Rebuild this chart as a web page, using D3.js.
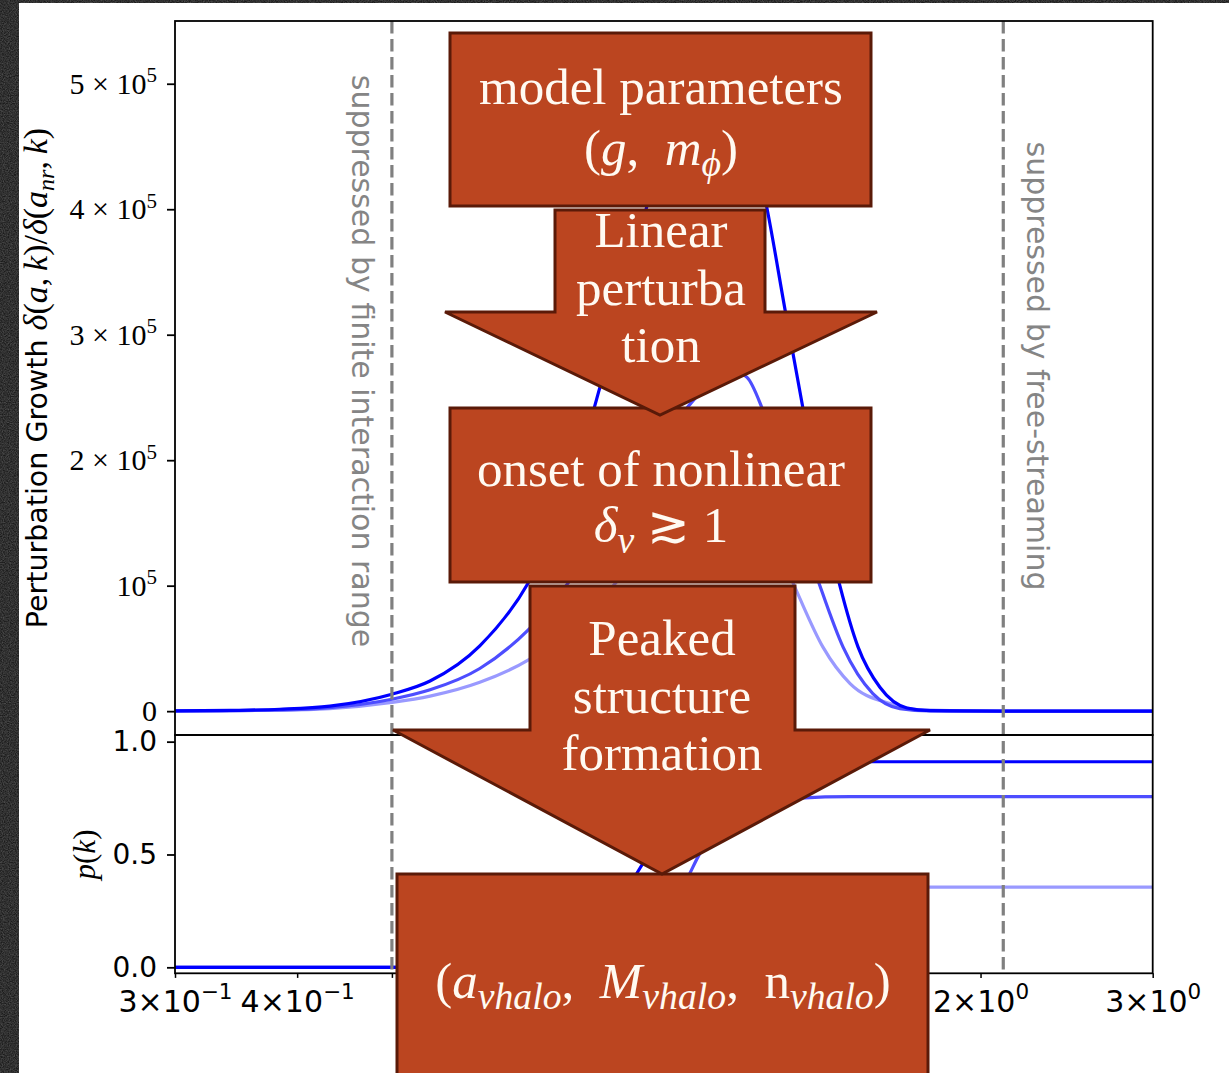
<!DOCTYPE html>
<html>
<head>
<meta charset="utf-8">
<script src="https://cdn.jsdelivr.net/npm/d3@7"></script>
<style>
  html, body { margin: 0; padding: 0; background: #1b1b1b; overflow: hidden; }
  svg { display: block; }
</style>
</head>
<body>
<svg id="fig" width="1229" height="1073"></svg>
<script>
// ---- growth factor delta(a,k)/delta(a_nr,k) for three couplings (strong, mid, weak) ----
const growthKStrong = [0.300, 0.342, 0.384, 0.432, 0.500, 0.547, 0.615, 0.689, 0.752, 0.816, 0.876, 0.940, 1.009, 1.070, 1.135, 1.210, 1.262, 1.316, 1.370, 1.436, 1.499, 1.578, 1.682, 1.776, 2.095, 3.000];
const growthStrong  = [200, 600, 1500, 4000, 13500, 24000, 52000, 102000, 165000, 258000, 350000, 440000, 505000, 525000, 490000, 400000, 320000, 242000, 170000, 100000, 51000, 19000, 2500, 400, 0, 0];

const growthKMid = [0.300, 0.384, 0.432, 0.500, 0.547, 0.615, 0.689, 0.779, 0.876, 0.986, 1.070, 1.109, 1.154, 1.195, 1.247, 1.307, 1.370, 1.447, 1.552, 1.654, 1.776, 2.095, 3.000];
const growthMid  = [150, 1000, 2800, 9500, 17000, 34000, 64600, 115000, 175000, 235000, 265000, 272000, 266000, 242000, 200000, 148000, 100000, 51000, 14000, 2000, 200, 0, 0];

const growthKWeak = [0.300, 0.384, 0.432, 0.500, 0.547, 0.615, 0.689, 0.779, 0.876, 0.986, 1.070, 1.148, 1.233, 1.298, 1.380, 1.471, 1.616, 1.734, 2.095, 3.000];
const growthWeak  = [100, 700, 2000, 7000, 12000, 23000, 40700, 72000, 115000, 160000, 182000, 172000, 135000, 95000, 51000, 22000, 6000, 1000, 0, 0];

// ---- halo fraction p(k) for the same three couplings ----
const probKStrong = [0.300, 0.689, 0.709, 0.779, 0.836, 0.897, 0.963, 1.033, 1.135, 1.307, 1.542, 3.000];
const probStrong  = [0, 0, 0.005, 0.08, 0.22, 0.44, 0.65, 0.80, 0.88, 0.905, 0.911, 0.911];

const probKMid = [0.300, 0.816, 0.897, 0.918, 0.974, 1.009, 1.033, 1.083, 1.148, 1.218, 1.307, 1.471, 3.000];
const probMid  = [0, 0, 0.03, 0.10, 0.28, 0.418, 0.506, 0.62, 0.70, 0.735, 0.75, 0.756, 0.756];

const probKWeak = [0.300, 0.940, 1.033, 1.109, 1.190, 1.262, 1.370, 1.542, 3.000];
const probWeak  = [0, 0, 0.02, 0.10, 0.22, 0.30, 0.345, 0.355, 0.355];

// ---- scale boundaries marked with dashed lines ----
const suppressionK = [0.5, 2.11];
const suppressionLabels = ["suppressed by finite interaction range", "suppressed by free-streaming"];

// ---- ticks ----
const growthTicks = [0, 1e5, 2e5, 3e5, 4e5, 5e5];
const probTicks = [0.0, 0.5, 1.0];
const probTickLabels = ["0.0", "0.5", "1.0"];
const kTicks = [0.3, 0.4, 0.5, 0.6, 0.7, 0.8, 0.9, 1, 2, 3];
const kTickLabels = { 0.3: ["3", "\u22121"], 0.4: ["4", "\u22121"], 0.6: ["6", "\u22121"], 1: [null, "0"], 2: ["2", "0"], 3: ["3", "0"] };

const lineAlphas = [1.0, 0.7, 0.4];

// ---------------------------------------------------------------
const svg = d3.select("#fig");
const W = 1229, H = 1073;
const SANS = "'DejaVu Sans', sans-serif";
const SERIF = "'Liberation Serif', 'DejaVu Serif', serif";

// dark grainy surround and white sheet
const defs = svg.append("defs");
const grain = defs.append("filter").attr("id", "grain")
  .attr("x", 0).attr("y", 0).attr("width", "100%").attr("height", "100%");
grain.append("feTurbulence").attr("type", "fractalNoise")
  .attr("baseFrequency", 0.85).attr("numOctaves", 3).attr("seed", 7).attr("result", "n");
grain.append("feColorMatrix").attr("in", "n").attr("type", "matrix")
  .attr("values", "0 0 0 0 1  0 0 0 0 1  0 0 0 0 1  0.35 0 0 0 -0.08");
svg.append("rect").attr("width", W).attr("height", H).attr("fill", "#1b1b1b");
svg.append("rect").attr("width", W).attr("height", H).attr("filter", "url(#grain)");
svg.append("rect").attr("x", 19).attr("y", 3).attr("width", W - 19).attr("height", H - 3).attr("fill", "#ffffff");

// panel geometry
const xL = 175, xR = 1152.7, yTop = 21, yMid = 735, yBot = 973.3;

const x = d3.scaleLog().domain([0.3, 3]).range([xL, xR]);
const yG = d3.scaleLinear().domain([-19000, 550000]).range([yMid, yTop]);
const yP = d3.scaleLinear().domain([-0.0265, 1.0295]).range([yBot, yMid]);

defs.append("clipPath").attr("id", "clipTop").append("rect")
  .attr("x", xL).attr("y", yTop).attr("width", xR - xL).attr("height", yMid - yTop);
defs.append("clipPath").attr("id", "clipBot").append("rect")
  .attr("x", xL).attr("y", yMid).attr("width", xR - xL).attr("height", yBot - yMid);

const blue = a => d3.interpolateRgb("#ffffff", "#0000ff")(a);

function drawSeries(g, ks, vs, yScale, alpha) {
  const pts = ks.map((k, i) => [k, vs[i]]);
  g.append("path")
    .attr("d", d3.line().x(d => x(d[0])).y(d => yScale(d[1])).curve(d3.curveMonotoneX)(pts))
    .attr("fill", "none").attr("stroke", blue(alpha)).attr("stroke-width", 3.2)
    .attr("stroke-linejoin", "round").attr("stroke-linecap", "butt");
}

// draw weakest first so the strongest sits on top
const gTop = svg.append("g").attr("clip-path", "url(#clipTop)");
drawSeries(gTop, growthKWeak, growthWeak, yG, lineAlphas[2]);
drawSeries(gTop, growthKMid, growthMid, yG, lineAlphas[1]);
drawSeries(gTop, growthKStrong, growthStrong, yG, lineAlphas[0]);

const gBot = svg.append("g").attr("clip-path", "url(#clipBot)");
drawSeries(gBot, probKWeak, probWeak, yP, lineAlphas[2]);
drawSeries(gBot, probKMid, probMid, yP, lineAlphas[1]);
drawSeries(gBot, probKStrong, probStrong, yP, lineAlphas[0]);

// dashed boundaries across both panels
svg.append("g").selectAll("line").data(suppressionK).join("line")
  .attr("x1", d => x(d)).attr("x2", d => x(d))
  .attr("y1", yTop).attr("y2", yBot)
  .attr("stroke", "#808080").attr("stroke-width", 3.2)
  .attr("stroke-dasharray", "12.5,5.5");

// spines
const spine = svg.append("g").attr("fill", "none").attr("stroke", "#000").attr("stroke-width", 1.8);
spine.append("rect").attr("x", xL).attr("y", yTop).attr("width", xR - xL).attr("height", yMid - yTop);
spine.append("rect").attr("x", xL).attr("y", yMid).attr("width", xR - xL).attr("height", yBot - yMid);

// growth axis (serif, 10^5 notation)
const axG = svg.append("g").attr("transform", `translate(${xL},0)`)
  .call(d3.axisLeft(yG).tickValues(growthTicks).tickSize(8).tickPadding(10).tickFormat(() => ""));
axG.select(".domain").remove();
axG.selectAll(".tick line").attr("stroke", "#000").attr("stroke-width", 1.8);
axG.selectAll(".tick text").each(function (d) {
  const t = d3.select(this).attr("font-family", SERIF).attr("font-size", 30).attr("fill", "#000");
  if (d === 0) { t.text("0"); return; }
  const m = Math.round(d / 1e5);
  if (m > 1) t.append("tspan").text(m + " \u00d7 ");
  t.append("tspan").text("10");
  t.append("tspan").attr("font-size", 21).attr("dy", "-0.55em").text("5");
});

// probability axis
const axP = svg.append("g").attr("transform", `translate(${xL},0)`)
  .call(d3.axisLeft(yP).tickValues(probTicks).tickSize(8).tickPadding(10)
    .tickFormat((d, i) => probTickLabels[i]));
axP.select(".domain").remove();
axP.selectAll(".tick line").attr("stroke", "#000").attr("stroke-width", 1.8);
axP.selectAll(".tick text").attr("font-family", SANS).attr("font-size", 28).attr("fill", "#000");

// k axis (log, labelled at selected multiples)
const axK = svg.append("g").attr("transform", `translate(0,${yBot})`)
  .call(d3.axisBottom(x).tickValues(kTicks).tickSize(4.6).tickFormat(() => ""));
axK.select(".domain").remove();
axK.selectAll(".tick line").attr("stroke", "#000").attr("stroke-width", 1.5)
  .attr("y2", d => d === 1 ? 8 : 4.6);
axK.selectAll(".tick text").each(function (d) {
  const lab = kTickLabels[d];
  const t = d3.select(this).attr("y", 39).attr("dy", 0)
    .attr("font-family", SANS).attr("font-size", 30).attr("fill", "#000");
  if (!lab) return;
  t.append("tspan").text(lab[0] ? lab[0] + "\u00d710" : "10");
  t.append("tspan").attr("font-size", 21.5).attr("dy", "-0.6em").text(lab[1]);
});

// axis titles
const yTitle = svg.append("text")
  .attr("transform", `translate(47,${(yTop + yMid) / 2}) rotate(-90)`)
  .attr("text-anchor", "middle").attr("fill", "#000").attr("font-size", 28.5);
yTitle.append("tspan").attr("font-family", SANS).text("Perturbation Growth ");
const mathParts = [["\u03b4", 1], ["(", 0], ["a", 1], [",\u2009", 0], ["k", 1], [")/", 0], ["\u03b4", 1], ["(", 0], ["a", 1]];
mathParts.forEach(([s, it]) => yTitle.append("tspan").attr("font-family", SERIF)
  .attr("font-style", it ? "italic" : "normal").attr("font-size", 34).text(s));
yTitle.append("tspan").attr("font-family", SERIF).attr("font-style", "italic")
  .attr("font-size", 24).attr("dy", "0.3em").text("nr");
[[",\u2009", 0], ["k", 1], [")", 0]].forEach(([s, it], i) => yTitle.append("tspan")
  .attr("font-family", SERIF).attr("font-style", it ? "italic" : "normal")
  .attr("font-size", 34).attr("dy", i === 0 ? "-0.21em" : null).text(s));

const pTitle = svg.append("text")
  .attr("transform", `translate(95,${yP(0.5)}) rotate(-90)`)
  .attr("text-anchor", "middle").attr("font-family", SERIF).attr("font-size", 31).attr("fill", "#000");
pTitle.append("tspan").attr("font-style", "italic").text("p");
pTitle.append("tspan").text("(");
pTitle.append("tspan").attr("font-style", "italic").text("k");
pTitle.append("tspan").text(")");

// vertical captions beside the dashed lines
const captionX = [362, 1037], captionY = [361, 366];
suppressionLabels.forEach((s, i) => {
  svg.append("text")
    .attr("transform", `translate(${captionX[i]},${captionY[i]}) rotate(90)`)
    .attr("text-anchor", "middle").attr("dominant-baseline", "central")
    .attr("font-family", SANS).attr("font-size", 30).attr("fill", "#858585")
    .text(s);
});

// ---------------- flow diagram overlay ----------------
const FILL = "#bb4520", EDGE = "#5a1a08", INK = "#fffaf2";
const flow = svg.append("g");

function box(x0, y0, x1, y1) {
  flow.append("rect").attr("x", x0).attr("y", y0).attr("width", x1 - x0).attr("height", y1 - y0)
    .attr("fill", FILL).attr("stroke", EDGE).attr("stroke-width", 3);
}
function arrow(sx0, sx1, yTopA, yHead, hx0, hx1, tipX, tipY) {
  const pts = [[sx0, yTopA], [sx1, yTopA], [sx1, yHead], [hx1, yHead], [tipX, tipY], [hx0, yHead], [sx0, yHead]];
  flow.append("path").attr("d", "M" + pts.map(p => p.join(",")).join("L") + "Z")
    .attr("fill", FILL).attr("stroke", EDGE).attr("stroke-width", 3).attr("stroke-linejoin", "miter");
}
// rich text line: segments of [text, style]; style: 'i' italic, 's' italic subscript, 'r' roman
function richLine(cx, baseline, segs, size) {
  const t = flow.append("text").attr("x", cx).attr("y", baseline).attr("text-anchor", "middle")
    .attr("font-family", SERIF).attr("font-size", size).attr("fill", INK);
  let sub = false;
  segs.forEach(([s, st]) => {
    const isSub = st === "s";
    const sp = t.append("tspan").text(s)
      .attr("font-style", (st === "i" || st === "s") ? "italic" : "normal");
    if (isSub) sp.attr("font-size", size * 0.74);
    if (isSub && !sub) sp.attr("dy", size * 0.22);
    if (!isSub && sub) sp.attr("dy", -size * 0.22);
    sub = isSub;
  });
  return t;
}

const FS = 51;
box(450, 33, 871, 206);
richLine(661, 104, [["model parameters", "r"]], FS);
richLine(661, 165, [["(", "r"], ["g", "i"], [",\u2002", "r"], ["m", "i"], ["\u03d5", "s"], [")", "r"]], FS);

box(450, 408, 871, 582);
arrow(555, 765, 210, 312, 445, 877, 660, 415);
richLine(661, 247, [["Linear", "r"]], FS);
richLine(661, 305, [["perturba", "r"]], FS);
richLine(661, 362, [["tion", "r"]], FS);

richLine(661, 486, [["onset of nonlinear", "r"]], FS);
richLine(661, 542, [["\u03b4", "i"], ["\u03bd", "s"], [" \u2273 1", "r"]], FS);

box(397, 874, 928, 1090);
arrow(530, 795, 586, 730, 393, 930, 662, 874);
richLine(662, 655, [["Peaked", "r"]], FS);
richLine(662, 713, [["structure", "r"]], FS);
richLine(662, 770, [["formation", "r"]], FS);

richLine(663, 998, [["(", "r"], ["a", "i"], ["\u03bdhalo", "s"], [",\u2002", "r"], ["M", "i"], ["\u03bdhalo", "s"],
  [",\u2002", "r"], ["n", "r"], ["\u03bdhalo", "s"], [")", "r"]], FS);
</script>
</body>
</html>
